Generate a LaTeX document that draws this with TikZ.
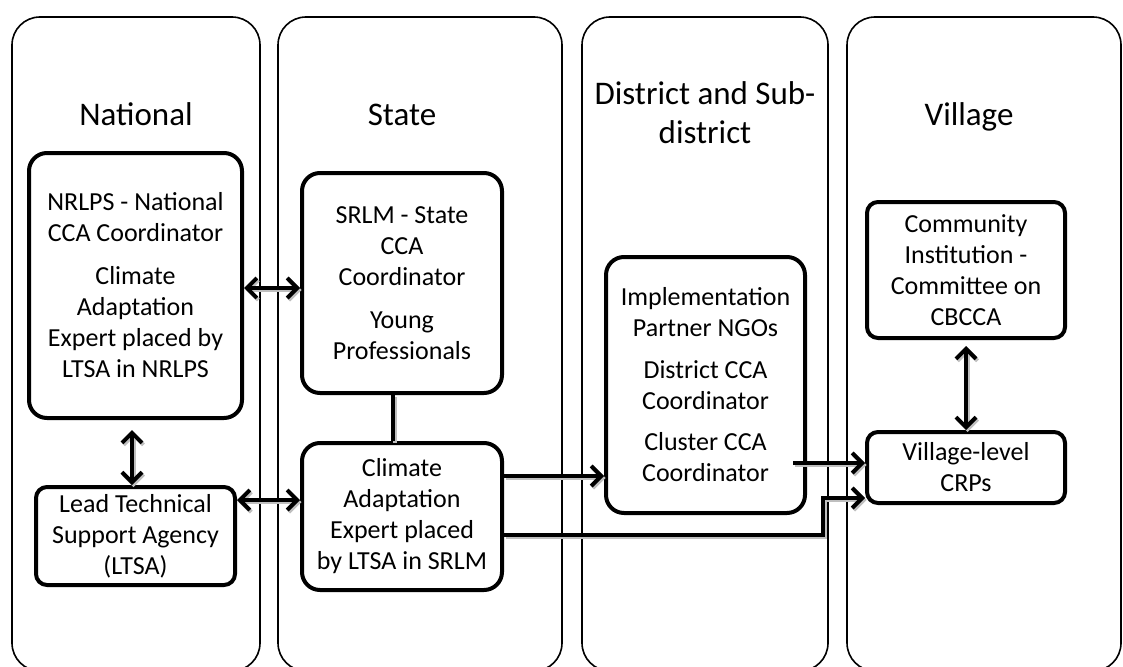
\documentclass[tikz,border=0pt]{standalone}
\usepackage{fontspec}
\setmainfont{Carlito}
\usetikzlibrary{arrows.meta,calc}
\begin{document}
\begin{tikzpicture}[x=1pt,y=-1pt,
 lane/.style={draw=black, line width=1.6pt, rounded corners=28pt},
 box/.style={draw=black, line width=4pt, rounded corners=18pt, fill=white, align=center,
   font=\fontsize{26}{31}\selectfont, inner sep=0pt},
 smallbox/.style={box, rounded corners=11pt},
 head/.style={font=\fontsize{33}{38}\selectfont, anchor=base, inner sep=0pt},
 conn/.style={line width=4pt, draw=black, line join=miter,
   preaction={draw=black!25, line width=4pt, transform canvas={shift={(1.5pt,-2pt)}}}},
 barb/.tip={Straight Barb[length=10pt,width=20pt,line join=miter]},
 onearrow/.style={conn, -barb},
 twoarrow/.style={conn, barb-barb}
]
\useasboundingbox (0,0) rectangle (1123,666);
\fill[white] (0,0) rectangle (1123,666);
\clip (0,0) rectangle (1123,666);

% lanes
\draw[lane] (12,17) rectangle (260,671);
\draw[lane] (278,17) rectangle (562,671);
\draw[lane] (582,17) rectangle (828,671);
\draw[lane] (847,17) rectangle (1121,671);

% headings
\node[head] (h1) at (136,125) {National};
\node[head] (h2) at (402,125) {State};
\node[head] (h3) at (705,105) {District and Sub-};
\node[head] (h3b) at (705,143) {district};
\node[head] (h4) at (969,125) {Village};

% boxes
\node[box, minimum width=213pt, minimum height=265pt] (A) at (135.5,285.5)
 {NRLPS - National\\CCA Coordinator\\[12pt]Climate\\Adaptation\\Expert placed by\\LTSA in NRLPS};
\node[box, minimum width=200pt, minimum height=220pt] (B) at (402,283)
 {SRLM - State\\CCA\\Coordinator\\[12pt]Young\\Professionals};
\node[box, minimum width=200pt, minimum height=147pt] (C) at (402,516.5)
 {Climate\\Adaptation\\Expert placed\\by LTSA in SRLM};
\node[smallbox, minimum width=199pt, minimum height=98pt] (D) at (135.5,536)
 {Lead Technical\\Support Agency\\(LTSA)};
\node[box, minimum width=199pt, minimum height=256pt] (E) at (705.5,385)
 {Implementation\\Partner NGOs\\[11pt]District CCA\\Coordinator\\[10pt]Cluster CCA\\Coordinator};
\node[smallbox, minimum width=198pt, minimum height=136pt] (F) at (966,270)
 {Community\\Institution -\\Committee on\\CBCCA};
\node[smallbox, minimum width=198pt, minimum height=71pt] (G) at (966,467.5)
 {Village-level\\CRPs};

% connectors
\draw[twoarrow] (A.east |- 0,288) -- (B.west |- 0,288);
\draw[twoarrow, shorten <=10pt] (A.south -| 132,0) -- (D.north -| 132,0);
\draw[twoarrow] (D.east |- 0,500) -- (C.west |- 0,500);
\draw[conn] (B.south -| 393,0) -- (C.north -| 393,0);
\draw[onearrow] (C.east |- 0,476) -- (E.west |- 0,476);
\coordinate (e1) at (793,463);
\draw[onearrow] (e1) -- (e1 -| G.west);
\coordinate (k1) at (823,535);
\coordinate (k2) at (823,498);
\draw[onearrow] (C.east |- k1) -- (k1) -- (k2) -- (k2 -| G.west);
\draw[twoarrow, shorten <=6pt] (F.south) -- (G.north);
\end{tikzpicture}
\end{document}
